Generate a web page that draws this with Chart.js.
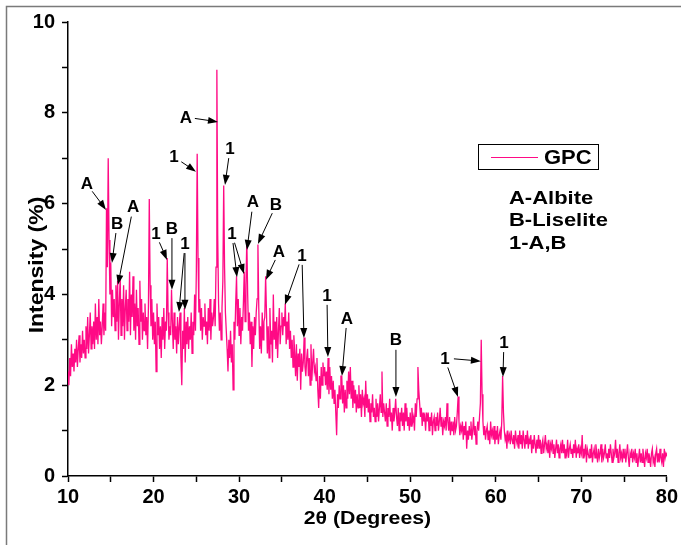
<!DOCTYPE html>
<html>
<head>
<meta charset="utf-8">
<script src="https://cdn.jsdelivr.net/npm/chart.js@4.4.1/dist/chart.umd.min.js"></script>
<style>
  html, body { margin: 0; padding: 0; background: #fff; }
</style>
</head>
<body>
<canvas id="xrd" width="681" height="545"></canvas>
<script>
// XRD pattern of GPC, intensity every 0.1 degree
const angleStart = 10;
const angleStep = 0.1;

const int10 = [
  2.3, 2.0, 2.6, 2.2, 2.9, 2.4, 2.7, 2.3, 2.8, 2.5,
  3.0, 2.4, 2.8, 3.1, 2.5, 2.9, 2.6, 3.2, 2.7, 3.0,
  2.6, 3.3, 2.8, 3.5, 2.7, 3.1, 3.6, 2.8, 3.3, 2.9,
  3.4, 2.8, 3.8, 3.0, 3.5, 2.9, 3.9, 3.1, 3.4, 2.9,
  3.3, 3.8, 3.1, 3.6, 3.2, 5.9, 4.6, 7.0, 5.2, 4.0,
  4.7, 3.3, 4.1, 3.5, 3.9, 3.2, 4.2, 3.4, 4.3, 3.0,
  3.8, 4.4, 3.1, 3.9, 3.3, 4.2, 3.0, 3.7, 4.1, 3.2,
  3.9, 3.4, 4.5, 3.1, 4.0, 3.5, 4.4, 3.2, 3.8, 3.0,
  4.1, 3.3, 3.7, 2.9, 4.3, 3.4, 3.9, 3.0, 3.6, 3.2,
  3.8, 3.1, 3.5, 2.8, 3.7, 6.1, 4.2, 3.3, 3.9, 3.0
];
const int20 = [
  3.6, 2.9, 3.4, 2.3, 3.8, 3.1, 3.5, 2.8, 3.3, 2.6,
  3.5, 3.0, 3.7, 2.8, 3.4, 3.2, 4.8, 3.6, 3.0, 3.3,
  3.1, 4.1, 3.4, 2.8, 3.6, 3.0, 3.3, 2.7, 3.5, 2.9,
  3.3, 3.6, 2.6, 2.0, 3.2, 2.8, 3.7, 2.5, 3.4, 2.9,
  3.5, 2.8, 3.3, 3.0, 3.6, 2.7, 3.4, 3.1, 4.0, 3.2,
  4.5, 7.1, 4.8, 3.6, 3.9, 3.2, 3.7, 3.0, 3.5, 3.3,
  3.8, 3.1, 3.4, 2.9, 3.7, 3.2, 3.9, 3.0, 3.6, 3.3,
  3.5, 3.9, 3.3, 4.6, 8.95, 5.3, 3.8, 3.2, 3.6, 3.0,
  3.7, 4.3, 6.4, 4.6, 3.6, 3.2, 2.8, 2.3, 3.0, 2.6,
  3.2, 2.5, 2.9, 1.9, 3.4, 3.0, 3.8, 4.4, 3.3, 3.9
];
const int30 = [
  3.1, 3.7, 2.9, 3.5, 3.2, 3.8, 4.5, 3.4, 4.2, 5.2,
  4.0, 3.2, 3.6, 2.9, 3.4, 2.4, 3.3, 2.8, 3.5, 3.1,
  3.6, 3.9, 5.1, 3.7, 2.8, 3.3, 2.7, 3.6, 3.0, 3.4,
  3.5, 4.4, 3.6, 2.7, 3.3, 2.6, 3.7, 2.9, 3.2, 2.5,
  4.0, 3.0, 3.4, 2.8, 3.5, 2.6, 3.2, 3.7, 2.9, 3.3,
  3.6, 3.1, 3.5, 3.3, 3.8, 2.9, 3.4, 3.0, 3.6, 2.8,
  3.2, 2.6, 3.0, 2.4, 3.1, 2.7, 2.2, 2.9, 2.1, 2.7,
  2.4, 2.8, 1.9, 2.7, 2.3, 2.5, 3.05, 2.4, 2.2, 2.6,
  2.8, 2.2, 2.6, 2.0, 2.9, 2.1, 2.5, 2.8, 2.3, 2.4,
  2.1, 2.6, 1.9, 1.5, 2.2, 1.7, 2.4, 2.0, 2.5, 2.2
];
const int40 = [
  2.4, 2.0, 2.3, 1.9, 2.6, 1.8, 2.4, 1.9, 2.2, 1.7,
  2.1, 1.6, 1.9, 1.4, 0.9, 1.8, 1.5, 2.0, 1.7, 2.2,
  2.2, 1.6, 2.0, 1.4, 1.9, 1.5, 2.1, 1.7, 2.3, 1.8,
  2.4, 1.7, 2.1, 1.5, 2.0, 1.6, 1.9, 1.4, 1.8, 1.5,
  2.0, 1.5, 1.8, 1.3, 1.9, 1.6, 1.7, 1.3, 2.1, 1.5,
  1.8, 1.4, 1.7, 1.2, 1.6, 1.4, 1.8, 1.3, 1.5, 1.2,
  1.7, 1.3, 1.6, 1.2, 1.5, 1.8, 1.4, 2.3, 1.3, 1.6,
  1.4, 1.2, 1.6, 1.1, 1.5, 1.3, 1.7, 1.2, 1.4, 1.0,
  1.5, 1.2, 1.4, 1.7, 1.3, 1.1, 1.5, 1.0, 1.4, 1.2,
  1.5, 1.1, 1.4, 1.0, 1.6, 1.2, 1.5, 1.1, 1.3, 1.0
];
const int50 = [
  1.4, 1.1, 1.5, 1.2, 1.3, 1.0, 1.6, 1.3, 1.7, 2.4,
  1.9, 1.6, 1.3, 1.5, 1.1, 1.4, 1.2, 1.3, 1.0, 1.4,
  1.2, 1.4, 1.0, 1.3, 1.1, 1.4, 0.9, 1.2, 1.3, 1.0,
  1.3, 1.1, 1.4, 1.0, 1.2, 1.5, 1.1, 1.3, 0.9, 1.2,
  1.1, 1.3, 1.0, 1.6, 1.2, 1.0, 1.3, 0.9, 1.2, 1.0,
  1.2, 0.9, 1.3, 1.0, 1.1, 1.4, 1.75, 1.2, 0.9, 1.1,
  1.0, 1.2, 0.8, 1.1, 0.9, 1.2, 0.6, 1.0, 0.8, 1.1,
  0.9, 1.2, 0.8, 1.0, 1.3, 0.9, 1.1, 0.7, 1.0, 1.2,
  1.0, 1.3, 1.6, 3.0, 1.8, 1.2, 0.9, 1.1, 0.8, 1.0,
  1.1, 0.8, 1.0, 0.7, 1.2, 0.9, 1.0, 0.8, 1.1, 0.7
];
const int60 = [
  1.0, 0.8, 1.1, 0.7, 0.9, 1.0, 0.8, 1.2, 2.2, 1.4,
  1.0, 0.8, 0.9, 0.6, 1.0, 0.8, 0.9, 0.7, 1.0, 0.8,
  0.7, 0.9, 0.6, 1.0, 0.8, 0.7, 0.9, 0.6, 1.0, 0.7,
  0.9, 0.6, 1.0, 0.8, 0.6, 0.9, 0.7, 1.0, 0.6, 0.8,
  0.7, 0.9, 0.5, 0.8, 0.6, 0.9, 0.7, 0.5, 0.8, 0.6,
  0.9, 0.6, 0.8, 0.5, 0.7, 0.8, 0.5, 0.7, 0.9, 0.6,
  0.7, 0.5, 0.8, 0.4, 0.7, 0.6, 0.8, 0.5, 0.7, 0.4,
  0.6, 0.8, 0.5, 0.7, 0.4, 0.6, 0.7, 0.5, 0.8, 0.5,
  0.7, 0.4, 0.6, 0.5, 0.8, 0.4, 0.6, 0.7, 0.5, 0.6,
  0.4, 0.7, 0.5, 0.8, 0.4, 0.6, 0.5, 0.7, 0.4, 0.6
];
const int70 = [
  0.5, 0.9, 0.4, 0.6, 0.5, 0.7, 0.3, 0.6, 0.5, 0.4,
  0.6, 0.4, 0.7, 0.3, 0.5, 0.6, 0.4, 0.7, 0.5, 0.3,
  0.6, 0.4, 0.5, 0.7, 0.3, 0.6, 0.4, 0.5, 0.7, 0.4,
  0.5, 0.3, 0.6, 0.4, 0.7, 0.5, 0.3, 0.6, 0.4, 0.5,
  0.8, 0.4, 0.6, 0.3, 0.5, 0.7, 0.4, 0.5, 0.3, 0.6,
  0.4, 0.6, 0.3, 0.5, 0.7, 0.4, 0.2, 0.5, 0.4, 0.6,
  0.3, 0.5, 0.4, 0.6, 0.3, 0.5, 0.2, 0.4, 0.6, 0.3,
  0.5, 0.3, 0.6, 0.4, 0.2, 0.5, 0.4, 0.6, 0.3, 0.5,
  0.4, 0.2, 0.5, 0.6, 0.3, 0.4, 0.2, 0.5, 0.6, 0.3,
  0.5, 0.3, 0.6, 0.4, 0.3, 0.5, 0.2, 0.6, 0.4, 0.5,
  0.45
];

const xTicks = [10, 20, 30, 40, 50, 60, 70, 80];
const yTicks = [0, 2, 4, 6, 8, 10];
const xTitle = '2θ (Degrees)';
const yTitle = 'Intensity (%)';

// peak labels: text, label position (2theta, %), arrow tips (2theta, %)
const peakLabels = [
  ['A', 12.22, 6.45, [[14.44, 5.86]]],
  ['B', 15.73, 5.57, [[15.14, 4.69]]],
  ['A', 17.60, 5.93, [[15.84, 4.21]]],
  ['1', 20.28, 5.35, [[21.57, 4.76]]],
  ['B', 22.15, 5.46, [[22.15, 4.10]]],
  ['1', 23.67, 5.13, [[22.97, 3.61], [23.67, 3.66]]],
  ['1', 22.39, 7.05, [[24.96, 6.70]]],
  ['A', 23.79, 7.91, [[27.53, 7.80]]],
  ['1', 28.93, 7.22, [[28.35, 6.41]]],
  ['1', 29.17, 5.35, [[29.75, 4.38], [30.57, 4.45]]],
  ['A', 31.62, 6.04, [[30.92, 4.98]]],
  ['B', 34.31, 5.99, [[32.20, 5.11]]],
  ['A', 34.66, 4.96, [[33.14, 4.32]]],
  ['1', 37.35, 4.87, [[35.36, 3.77], [37.58, 3.04]]],
  ['1', 40.27, 3.99, [[40.38, 2.62]]],
  ['A', 42.60, 3.48, [[42.02, 2.20]]],
  ['B', 48.33, 3.00, [[48.33, 1.74]]],
  ['1', 54.06, 2.60, [[55.58, 1.74], [58.26, 2.53]]],
  ['1', 60.95, 2.95, [[60.84, 2.18]]]
];
const phaseKey = ['A-Albite', 'B-Liselite', '1-A,B'];

const lineColor = '#ff0a85';
const boldFont = '"Liberation Sans", Arial, sans-serif';

const intensity = [].concat(int10, int20, int30, int40, int50, int60, int70);
const points = intensity.map((v, i) => ({ x: +(angleStart + i * angleStep).toFixed(1), y: v }));

// text drawn a bit wider than the font, like the original export
function wideText(ctx, txt, x, y, size, stretch, rot) {
  ctx.save();
  ctx.translate(x, y);
  if (rot) ctx.rotate(rot);
  ctx.scale(stretch, 1);
  ctx.font = 'bold ' + size + 'px ' + boldFont;
  ctx.fillText(txt, 0, 0);
  ctx.restore();
}

const overlay = {
  id: 'overlay',
  afterDraw(chart) {
    const ctx = chart.ctx;
    const xs = chart.scales.x, ys = chart.scales.y;
    const area = chart.chartArea;
    ctx.save();

    // picture frame (top and left edges only)
    ctx.strokeStyle = '#7a7a7a';
    ctx.lineWidth = 1.5;
    ctx.beginPath();
    ctx.moveTo(6.5, 545);
    ctx.lineTo(6.5, 6.5);
    ctx.lineTo(681, 6.5);
    ctx.stroke();

    // axis titles
    ctx.fillStyle = '#000';
    ctx.textAlign = 'center';
    ctx.textBaseline = 'middle';
    wideText(ctx, xTitle, (area.left + area.right) / 2, 519, 19, 1.12, 0);
    wideText(ctx, yTitle, 37, 265, 20, 1.15, -Math.PI / 2);

    // peak labels with arrows
    ctx.strokeStyle = '#000';
    ctx.lineWidth = 1;
    ctx.font = 'bold 17px ' + boldFont;
    peakLabels.forEach(([txt, lx, ly, tips]) => {
      const cx = xs.getPixelForValue(lx), cy = ys.getPixelForValue(ly);
      ctx.fillText(txt, cx, cy + 1);
      tips.forEach(([tx, ty]) => {
        const px = xs.getPixelForValue(tx), py = ys.getPixelForValue(ty);
        const a = Math.atan2(py - cy, px - cx);
        const c = Math.cos(a), s = Math.sin(a);
        const sx = cx + c * 9, sy = cy + s * 10;
        ctx.beginPath();
        ctx.moveTo(sx, sy);
        ctx.lineTo(px - c * 6, py - s * 6);
        ctx.stroke();
        ctx.beginPath();
        ctx.moveTo(px, py);
        ctx.lineTo(px - c * 10 + s * 3.5, py - s * 10 - c * 3.5);
        ctx.lineTo(px - c * 10 - s * 3.5, py - s * 10 + c * 3.5);
        ctx.closePath();
        ctx.fill();
      });
    });

    // legend box
    ctx.strokeStyle = '#000';
    ctx.lineWidth = 1;
    ctx.strokeRect(478.5, 144.5, 120, 25);
    ctx.strokeStyle = lineColor;
    ctx.beginPath();
    ctx.moveTo(491, 157.5);
    ctx.lineTo(538, 157.5);
    ctx.stroke();
    ctx.textAlign = 'left';
    wideText(ctx, chart.data.datasets[0].label, 544, 158, 20, 1.1, 0);
    phaseKey.forEach((t, i) => {
      wideText(ctx, t, 509, 199 + i * 22.5, 18, 1.22, 0);
    });
    ctx.restore();
  }
};

new Chart(document.getElementById('xrd'), {
  type: 'line',
  data: {
    datasets: [{
      label: 'GPC',
      data: points,
      borderColor: lineColor,
      borderWidth: 1.3,
      pointRadius: 0,
      tension: 0,
      fill: false
    }]
  },
  options: {
    responsive: false,
    animation: false,
    devicePixelRatio: 1,
    layout: { padding: { top: 22, right: 14, left: 0, bottom: 0 } },
    plugins: { legend: { display: false }, tooltip: { enabled: false } },
    scales: {
      x: {
        type: 'linear',
        min: 10,
        max: 80,
        afterFit(s) { s.height = 69; },
        ticks: {
          stepSize: 5,
          autoSkip: false,
          maxRotation: 0,
          padding: 3,
          color: '#000',
          font: { family: boldFont, size: 20, weight: 'bold' },
          callback: v => xTicks.includes(v) ? String(v) : ''
        },
        grid: { drawOnChartArea: false, drawTicks: true, tickLength: 6, tickColor: '#000', tickWidth: 1.5 },
        border: { color: '#000', width: 1.5 }
      },
      y: {
        min: 0,
        max: 10,
        afterFit(s) { s.width = 68; },
        ticks: {
          stepSize: 1,
          autoSkip: false,
          padding: 7,
          color: '#000',
          font: { family: boldFont, size: 20, weight: 'bold' },
          callback: v => yTicks.includes(v) ? String(v) : ''
        },
        grid: { drawOnChartArea: false, drawTicks: true, tickLength: 6, tickColor: '#000', tickWidth: 1.5 },
        border: { color: '#000', width: 1.5 }
      }
    }
  },
  plugins: [overlay]
});
</script>
</body>
</html>
